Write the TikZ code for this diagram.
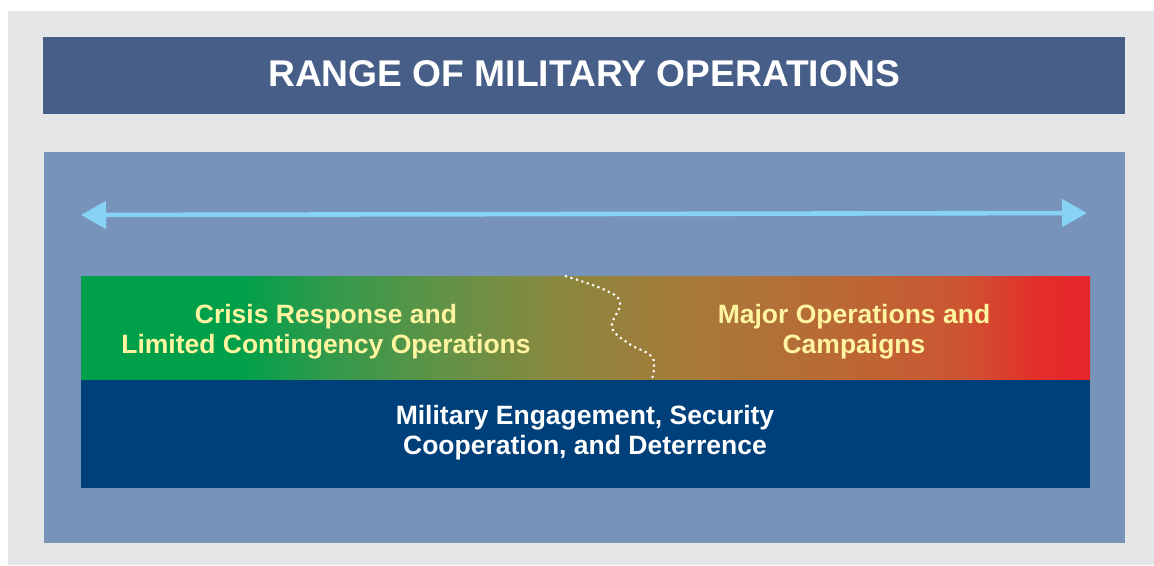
\documentclass[tikz,border=0pt]{standalone}
\usepackage{fontspec}
\setmainfont{Liberation Sans}
\usetikzlibrary{arrows.meta}
\definecolor{pagegray}{RGB}{229,230,232}
\definecolor{titleblue}{RGB}{70,94,136}
\definecolor{panelblue}{RGB}{120,147,186}
\definecolor{darkblue}{RGB}{0,64,122}
\definecolor{arrowblue}{RGB}{135,211,246}
\definecolor{textyellow}{RGB}{255,245,160}
\definecolor{gA}{RGB}{0,160,75}
\definecolor{gB}{RGB}{50,154,75}
\definecolor{gC}{RGB}{100,146,70}
\definecolor{gD}{RGB}{138,136,62}
\definecolor{gE}{RGB}{165,122,58}
\definecolor{gF}{RGB}{185,106,54}
\definecolor{gG}{RGB}{205,85,50}
\definecolor{gH}{RGB}{228,45,42}
\definecolor{gI}{RGB}{232,38,42}
\pgfdeclarehorizontalshading{opsgrad}{100bp}{color(0bp)=(gA); color(25bp)=(gA); color(32.9bp)=(gA); color(37.3bp)=(gB); color(43.3bp)=(gC); color(48.7bp)=(gD); color(54.7bp)=(gE); color(62.1bp)=(gF); color(68.6bp)=(gG); color(72.5bp)=(gH); color(75bp)=(gI); color(100bp)=(gI)}
\tikzset{
  bodytext/.style={align=center, inner sep=0pt, font=\bfseries\fontsize{26.5}{30}\selectfont},
  divider/.style={draw=white, line width=2.1pt, dash pattern=on 2.1pt off 3.6pt},
  rangearrow/.style={draw=arrowblue, line width=4.6pt, {Triangle[length=25pt,width=27pt]}-{Triangle[length=25pt,width=27pt]}}
}
\begin{document}
\begin{tikzpicture}[x=1pt,y=-1pt]
\useasboundingbox (0,0) rectangle (1154,565);
\fill[pagegray] (8,11) rectangle (1154,565);
\fill[titleblue] (43,37) rectangle (1125,114);
\node[anchor=base, inner sep=0pt, text=white, font=\bfseries\fontsize{37.2}{44}\selectfont] (title) at (584,86) {RANGE OF MILITARY OPERATIONS};
\fill[panelblue] (44,152) rectangle (1125,543);
\coordinate (arrL) at (81,215);
\coordinate (arrR) at (1087,213);
\draw[rangearrow] (arrL) -- (arrR);
\shade[shading=opsgrad] (81,276) rectangle (1090,380);
\fill[darkblue] (81,380) rectangle (1090,488);
\draw[divider] plot[smooth, tension=0.7] coordinates {(565,276) (605,290) (620,303) (612,327) (628,343) (650,355) (654,366) (652,379)};
\node[bodytext, text=textyellow] (crisis) at (326,332) {Crisis Response and\\Limited Contingency Operations};
\node[bodytext, text=textyellow] (major) at (854,332) {Major Operations and\\Campaigns};
\node[bodytext, text=white] (engage) at (585,432.5) {Military Engagement, Security\\Cooperation, and Deterrence};
\end{tikzpicture}
\end{document}
